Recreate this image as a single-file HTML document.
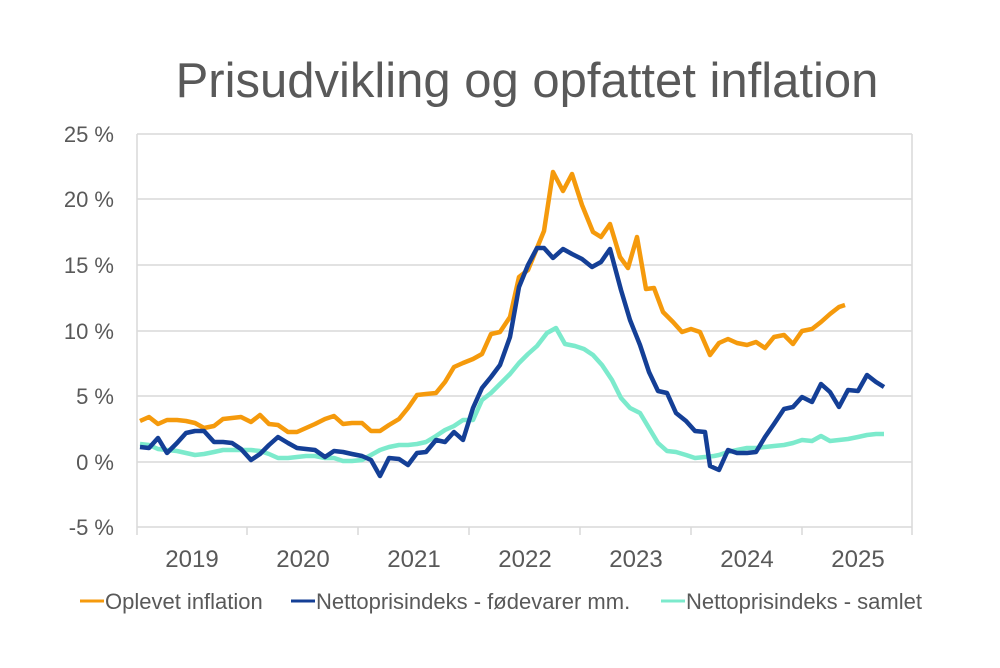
<!DOCTYPE html>
<html><head><meta charset="utf-8"><style>
html,body{margin:0;padding:0;background:#fff;}
svg{display:block;font-family:"Liberation Sans",sans-serif;}
</style></head><body>
<svg width="1000" height="668" viewBox="0 0 1000 668">
<rect width="1000" height="668" fill="#fff"/>
<text x="527" y="97" font-size="49" fill="#595959" text-anchor="middle">Prisudvikling og opfattet inflation</text>
<g stroke="#d9d9d9" stroke-width="1.5">
<line x1="137" y1="134" x2="912" y2="134"/>
<line x1="137" y1="199" x2="912" y2="199"/>
<line x1="137" y1="265" x2="912" y2="265"/>
<line x1="137" y1="331" x2="912" y2="331"/>
<line x1="137" y1="396" x2="912" y2="396"/>
<line x1="137" y1="462" x2="912" y2="462"/>
<line x1="137" y1="527" x2="912" y2="527"/>
<line x1="912" y1="134" x2="912" y2="527"/>
<line x1="137" y1="134" x2="137" y2="535"/>
<line x1="247" y1="527" x2="247" y2="535"/>
<line x1="358" y1="527" x2="358" y2="535"/>
<line x1="469" y1="527" x2="469" y2="535"/>
<line x1="580" y1="527" x2="580" y2="535"/>
<line x1="691" y1="527" x2="691" y2="535"/>
<line x1="802" y1="527" x2="802" y2="535"/>
<line x1="912" y1="527" x2="912" y2="535"/>
</g>
<g font-size="22" fill="#595959" text-anchor="end">
<text x="114" y="142">25 %</text>
<text x="114" y="207">20 %</text>
<text x="114" y="273">15 %</text>
<text x="114" y="339">10 %</text>
<text x="114" y="404">5 %</text>
<text x="114" y="470">0 %</text>
<text x="114" y="535">-5 %</text>
</g>
<g font-size="24" fill="#595959" text-anchor="middle">
<text x="192" y="567">2019</text>
<text x="303" y="567">2020</text>
<text x="414" y="567">2021</text>
<text x="525" y="567">2022</text>
<text x="636" y="567">2023</text>
<text x="747" y="567">2024</text>
<text x="858" y="567">2025</text>
</g>
<g fill="none" stroke-width="4.5" stroke-linejoin="round">
<polyline stroke="#7ceacc" points="140,444 149,445 158,449 167,450 177,451 186,453 195,455 204,454 214,452 223,450 232,450 241,450 251,450 260,451 269,454 278,458 288,458 297,457 306,456 315,456 325,458 334,458 343,461 352,461 362,460 371,455 380,450 389,447 399,445 408,445 417,444 426,442 436,436 445,430 454,426 463,420 473,420 482,400 491,393 500,384 510,374 519,363 528,354 537,346 547,333 556,328 565,344 575,346 584,349 593,355 602,365 612,380 621,398 630,408 640,413 649,428 658,443 667,451 676,452 686,455 695,458 705,457 714,456 719,455 728,452 737,450 747,448 756,448 765,447 774,446 784,445 793,443 802,440 812,441 821,436 830,441 839,440 848,439 858,437 867,435 876,434 884,434"/>
<polyline stroke="#f59a0c" points="140,421 149,417 158,424 167,420 177,420 186,421 195,423 204,428 214,426 223,419 232,418 241,417 251,422 260,415 269,424 278,425 288,432 297,432 306,428 315,424 325,419 334,416 343,424 352,423 362,423 371,431 380,431 389,425 399,419 408,408 417,395 426,394 436,393 445,382 454,367 463,363 473,359 482,354 491,334 500,332 510,317 519,277 528,270 537,248 544,231 553,172 563,191 572,174 582,205 593,232 601,237 610,224 620,257 628,268 637,237 646,289 654,288 663,312 673,322 682,332 691,329 700,332 710,355 719,343 728,339 737,343 747,345 756,342 765,348 774,337 784,335 793,344 802,331 812,329 821,322 830,314 839,307 845,305"/>
<polyline stroke="#143f96" points="140,447 149,448 158,438 167,453 177,443 186,433 195,431 204,431 214,442 223,442 232,443 241,449 251,460 260,454 269,445 278,437 288,443 297,448 306,449 315,450 325,457 334,451 343,452 352,454 362,456 371,460 380,476 389,458 399,459 408,465 417,453 426,452 436,440 445,442 454,432 463,440 473,408 482,388 491,377 500,365 510,337 519,287 528,265 537,248 544,248 553,258 563,249 572,254 582,259 592,267 601,262 610,249 621,290 630,320 640,345 649,372 658,391 667,393 676,413 686,421 695,431 705,432 710,466 719,470 728,450 737,453 747,453 756,452 765,437 774,424 784,409 793,407 802,397 812,402 821,384 830,392 839,407 848,390 858,391 867,375 876,382 884,387"/>
</g>
<g font-size="22" fill="#595959">
<line x1="80" y1="601" x2="104" y2="601" stroke="#f59a0c" stroke-width="3"/>
<text x="105" y="609">Oplevet inflation</text>
<line x1="291" y1="601" x2="315" y2="601" stroke="#143f96" stroke-width="3"/>
<text x="316" y="609">Nettoprisindeks - fødevarer mm.</text>
<line x1="661" y1="601" x2="685" y2="601" stroke="#7ceacc" stroke-width="3"/>
<text x="686" y="609">Nettoprisindeks - samlet</text>
</g>
</svg>
</body></html>
